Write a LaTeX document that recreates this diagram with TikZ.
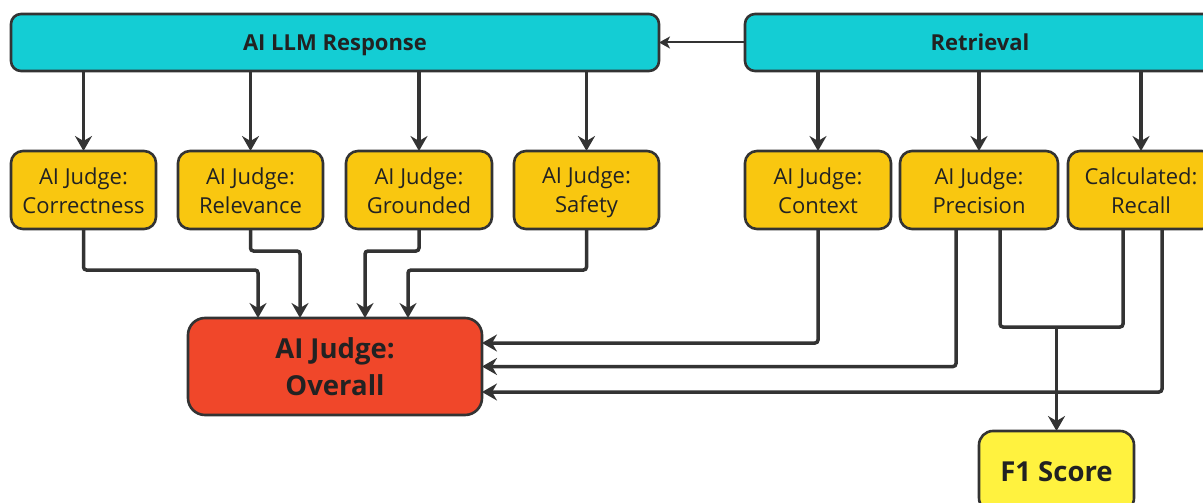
\documentclass[tikz,border=0pt]{standalone}
\usepackage{fontspec}
\setmainfont{Open Sans}
\usetikzlibrary{arrows.meta}
\definecolor{cyanbox}{HTML}{14CDD4}
\definecolor{yelbox}{HTML}{F9C710}
\definecolor{redbox}{HTML}{F0472A}
\definecolor{f1box}{HTML}{FFF23F}
\definecolor{ink}{HTML}{333333}
\definecolor{txt}{HTML}{222222}
\newcommand\jtop{\rule{0pt}{22pt}}
\newcommand\jbot{\rule[-5pt]{0pt}{5pt}}
\tikzset{
  base/.style={draw=ink, line width=2.6pt, inner sep=0pt, outer sep=0pt, align=center, text=txt},
  topbox/.style={base, fill=cyanbox, rounded corners=10pt, minimum height=57pt, text depth=0pt, font=\fontsize{22}{28}\selectfont\bfseries},
  judge/.style={base, fill=yelbox, rounded corners=12pt, minimum height=78pt, font=\fontsize{22}{29}\selectfont},
  overbox/.style={base, fill=redbox, rounded corners=17pt, minimum width=294pt, minimum height=97pt, font=\fontsize{27.5}{37}\selectfont\bfseries},
  f1style/.style={base, fill=f1box, rounded corners=14pt, minimum width=155pt, minimum height=81pt, text depth=0pt, font=\fontsize{27.5}{34}\selectfont\bfseries},
  arr/.style={draw=ink, line width=3.5pt, rounded corners=3pt, -{Stealth[length=15pt,width=17pt,inset=5pt]}},
  link/.style={draw=ink, line width=3.5pt, rounded corners=3pt},
  thinarr/.style={draw=ink, line width=2pt, -{Stealth[length=11pt,width=12pt,inset=3pt]}}
}
\begin{document}
\begin{tikzpicture}[x=1pt,y=-1pt]
\clip (0,0) rectangle (1203,503);
\fill[white] (0,0) rectangle (1203,503);
% top boxes
\node[topbox, minimum width=648pt] (resp) at (335,42.5) {AI LLM Response};
\node[topbox, minimum width=470pt] (ret) at (980,42.5) {Retrieval};
% judge boxes
\node[judge, minimum width=145pt] (corr) at (83.5,190) {\jtop AI Judge:\\Correctness\jbot};
\node[judge, minimum width=145pt] (rel) at (250.5,190) {\jtop AI Judge:\\Relevance\jbot};
\node[judge, minimum width=146pt] (gro) at (419,190) {\jtop AI Judge:\\Grounded\jbot};
\node[judge, minimum width=145pt] (saf) at (586.5,190) {\jtop AI Judge:\\Safety\jbot};
\node[judge, minimum width=146pt] (ctx) at (818,190) {\jtop AI Judge:\\Context\jbot};
\node[judge, minimum width=158pt] (prec) at (979,190) {\jtop AI Judge:\\Precision\jbot};
\node[judge, minimum width=146pt] (rec) at (1141,190) {\jtop Calculated:\\Recall\jbot};
% overall and F1
\node[overbox] (over) at (335,366.5) {AI Judge:\\Overall};
\node[f1style] (f1) at (1056.5,471.5) {F1 Score};
% retrieval to response
\draw[thinarr] (ret.west) -- (resp.east);
% top arrows
\foreach \n in {corr,rel,gro,saf}{
  \draw[arr] (\n.north |- resp.south) -- (\n.north);
}
\foreach \n in {ctx,prec,rec}{
  \draw[arr] (\n.north |- ret.south) -- (\n.north);
}
% into overall from top
\draw[arr] (corr.south) -- ++(0,41) -| ([xshift=-77pt]over.north);
\draw[arr] (rel.south) -- ++(0,22) -| ([xshift=-35pt]over.north);
\draw[arr] (gro.south) -- ++(0,22) -| ([xshift=30pt]over.north);
\draw[arr] (saf.south) -- ++(0,41) -| ([xshift=73pt]over.north);
% into overall from right
\draw[arr] (ctx.south) |- ([yshift=23.5pt]over.east);
\draw[arr] ([xshift=-23pt]prec.south) |- (over.east);
\draw[arr] ([xshift=21pt]rec.south) |- ([yshift=-25.5pt]over.east);
% F1
\coordinate (j) at (1056.5,327);
\draw[link] ([xshift=21pt]prec.south) -- ++(0,98) -| ([xshift=-18pt]rec.south);
\draw[arr] (j) -- (f1.north);
\end{tikzpicture}
\end{document}
